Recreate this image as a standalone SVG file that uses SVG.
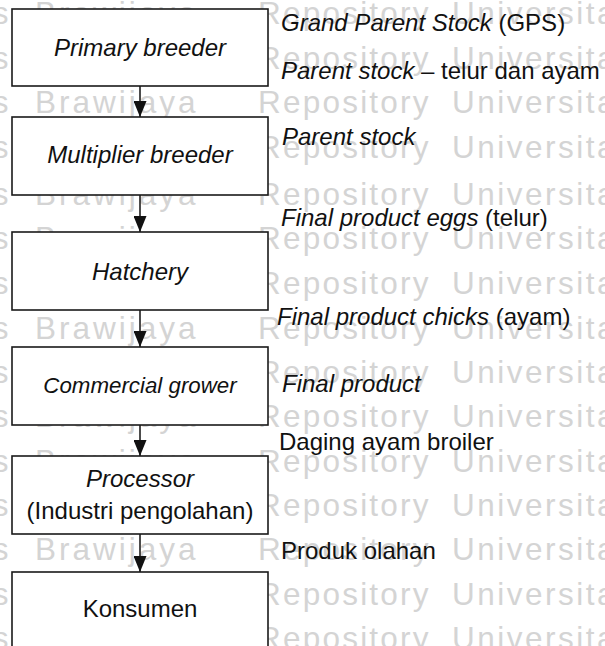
<svg xmlns="http://www.w3.org/2000/svg" xmlns:xlink="http://www.w3.org/1999/xlink" width="605" height="646" viewBox="0 0 605 646">
  <style>
    text { font-family: "Liberation Sans", Arial, sans-serif; font-size: 24px; fill: #111; }
    .it { font-style: italic; }
    .wm { fill: #d4d4d4; font-size: 31.5px; letter-spacing: 2.5px; }
    .box { fill: #fff; stroke: #1a1a1a; stroke-width: 1.6; }
    .edge { stroke: #111; stroke-width: 1.5; fill: none; marker-end: url(#arrow); }
    .c { text-anchor: middle; }
  </style>
  <defs>
    <marker id="arrow" markerUnits="userSpaceOnUse" markerWidth="16" markerHeight="13" viewBox="0 0 16 13" refX="16" refY="6.5" orient="auto">
      <path d="M0,0 L16,6.5 L0,13 Z" fill="#111"/>
    </marker>
    <!-- one row of the background watermark -->
    <g id="wm-row">
      <text class="wm" x="11" text-anchor="end">Universitas</text>
      <text class="wm" x="35" textLength="163">Brawijaya</text>
      <text class="wm" x="258" textLength="173">Repository</text>
      <text class="wm" x="452">Universitas Brawijaya</text>
    </g>
  </defs>

  <rect width="605" height="646" fill="#fff"/>

  <!-- watermark rows -->
  <g id="watermark">
    <use xlink:href="#wm-row" y="24"/>
    <use xlink:href="#wm-row" y="68.6"/>
    <use xlink:href="#wm-row" y="113.3"/>
    <use xlink:href="#wm-row" y="158"/>
    <use xlink:href="#wm-row" y="205"/>
    <use xlink:href="#wm-row" y="249"/>
    <use xlink:href="#wm-row" y="294"/>
    <use xlink:href="#wm-row" y="338.5"/>
    <use xlink:href="#wm-row" y="383"/>
    <use xlink:href="#wm-row" y="427"/>
    <use xlink:href="#wm-row" y="471.5"/>
    <use xlink:href="#wm-row" y="516"/>
    <use xlink:href="#wm-row" y="560"/>
    <use xlink:href="#wm-row" y="604.6"/>
    <use xlink:href="#wm-row" y="649.3"/>
  </g>

  <!-- connectors -->
  <g id="connectors">
    <line class="edge" x1="140" y1="86" x2="140" y2="117"/>
    <line class="edge" x1="140" y1="195" x2="140" y2="232"/>
    <line class="edge" x1="140" y1="310" x2="140" y2="347"/>
    <line class="edge" x1="140" y1="425" x2="140" y2="456"/>
    <line class="edge" x1="140" y1="534" x2="140" y2="572"/>
  </g>

  <!-- chain nodes -->
  <g id="primary-breeder">
    <rect class="box" x="12" y="9" width="256" height="77"/>
    <text class="it c" x="140" y="56">Primary breeder</text>
  </g>
  <g id="multiplier-breeder">
    <rect class="box" x="12" y="117" width="256" height="78"/>
    <text class="it c" x="140" y="163">Multiplier breeder</text>
  </g>
  <g id="hatchery">
    <rect class="box" x="12" y="232" width="256" height="78"/>
    <text class="it c" x="140" y="280">Hatchery</text>
  </g>
  <g id="commercial-grower">
    <rect class="box" x="12" y="347" width="256" height="78"/>
    <text class="it c" x="140" y="393" style="font-size:22.3px">Commercial grower</text>
  </g>
  <g id="processor">
    <rect class="box" x="12" y="456" width="256" height="78"/>
    <text class="it c" x="140" y="487">Processor</text>
    <text class="c" x="140" y="519">(Industri pengolahan)</text>
  </g>
  <g id="konsumen">
    <rect class="box" x="12" y="572" width="256" height="90"/>
    <text class="c" x="140" y="617">Konsumen</text>
  </g>

  <!-- product labels -->
  <g id="labels">
    <text x="281" y="31"><tspan class="it">Grand Parent Stock</tspan> (GPS)</text>
    <text x="281" y="79"><tspan class="it">Parent stock</tspan> – telur dan ayam</text>
    <text class="it" x="282" y="145">Parent stock</text>
    <text x="281" y="226"><tspan class="it">Final product eggs</tspan> (telur)</text>
    <text x="277" y="325"><tspan class="it">Final product chicks</tspan> (ayam)</text>
    <text class="it" x="282" y="392">Final product</text>
    <text x="279" y="450">Daging ayam broiler</text>
    <text x="281" y="559">Produk olahan</text>
  </g>
</svg>
